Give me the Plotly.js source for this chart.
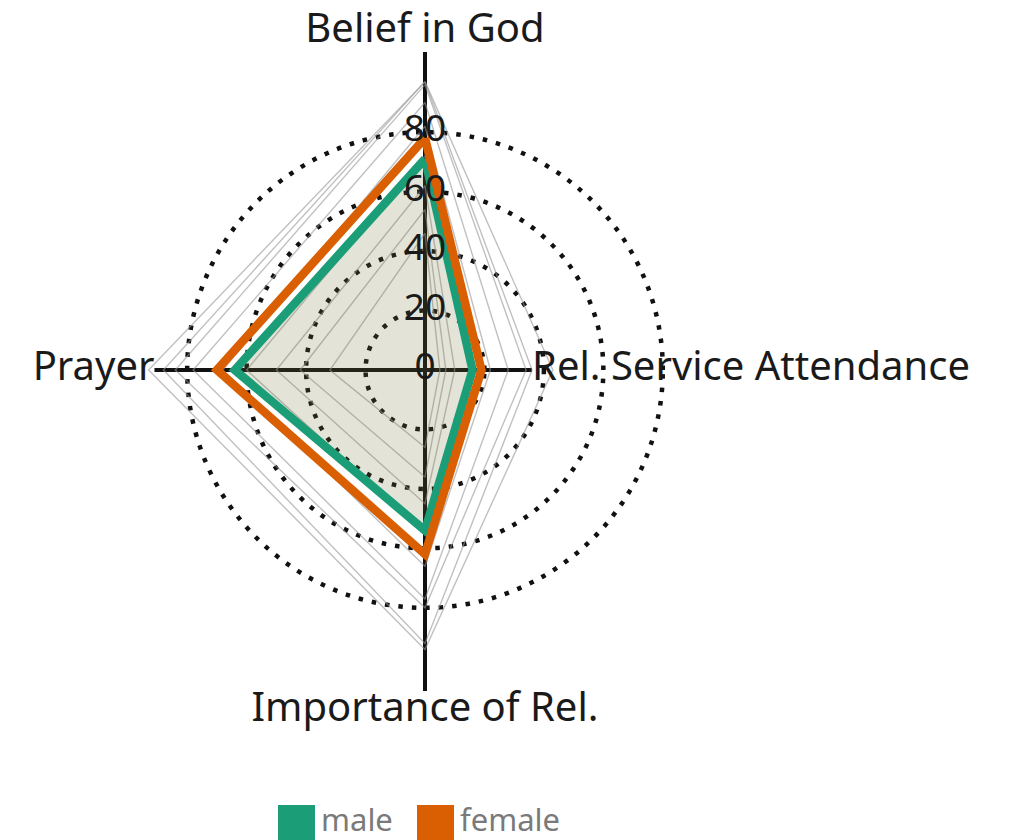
<!DOCTYPE html>
<html>
<head>
<meta charset="utf-8">
<script src="https://cdn.plot.ly/plotly-3.0.1.min.js"></script>
<style>html,body{margin:0;padding:0;background:#fff;}#chart{width:1017px;height:840px;}</style>
</head>
<body>
<div id="chart"></div>
<script>
// ---- data ----
const categories = ["Belief in God", "Rel. Service Attendance", "Importance of Rel.", "Prayer"];
const axisReach = [107, 36, 108, 91];
const radialTicks = [0, 20, 40, 60, 80];
const gridTicks = [20, 40, 60, 80];

const countryValues = [
  [97, 43, 94, 93],
  [97, 36, 92, 88],
  [96, 34, 80, 84],
  [90, 28, 77, 78],
  [82, 22, 66, 68],
  [72, 15, 55, 60],
  [62, 10, 45, 50],
  [54, 7, 36, 42],
  [46, 5, 26, 32]
];

const seriesNames = ["male", "female"];
const maleValues = [71, 16, 54, 64];
const femaleValues = [78, 19, 62, 70];
const seriesColors = ["#1b9e77", "#d95f02"];

// ---- traces ----
const traces = [];
const closeLoop = a => a.concat([a[0]]);
const thetaLoop = closeLoop(categories);

// axis lines
categories.forEach((c, i) => {
  traces.push({
    type: "scatterpolar", mode: "lines",
    r: [0, axisReach[i]], theta: [c, c],
    line: {color: "#111", width: 4},
    hoverinfo: "skip", showlegend: false
  });
});

// country polygons
countryValues.forEach(v => {
  traces.push({
    type: "scatterpolar", mode: "lines",
    r: closeLoop(v), theta: thetaLoop,
    line: {color: "rgba(150,150,150,0.6)", width: 1.4},
    hoverinfo: "skip", showlegend: false
  });
});

// male
traces.push({
  type: "scatterpolar", mode: "lines", name: seriesNames[0],
  r: closeLoop(maleValues), theta: thetaLoop,
  fill: "toself", fillcolor: "rgba(115,115,55,0.2)",
  line: {color: seriesColors[0], width: 8.5, join: "miter"},
  showlegend: false
});
// female
traces.push({
  type: "scatterpolar", mode: "lines", name: seriesNames[1],
  r: closeLoop(femaleValues), theta: thetaLoop,
  line: {color: seriesColors[1], width: 8.5, join: "miter"},
  showlegend: false
});

// radial tick labels
traces.push({
  type: "scatterpolar", mode: "text",
  r: radialTicks, theta: radialTicks.map(() => categories[0]),
  text: radialTicks.map(String),
  textposition: "middle center",
  textfont: {family: "Noto Sans", size: 37, color: "#1a1a1a"},
  hoverinfo: "skip", showlegend: false
});

// category labels
const labelPos = ["top center", "middle right", "bottom center", "middle left"];
categories.forEach((c, i) => {
  traces.push({
    type: "scatterpolar", mode: "text",
    r: [axisReach[i]], theta: [c], text: [c],
    textposition: labelPos[i],
    textfont: {family: "Noto Sans", size: 40, color: "#1a1a1a"},
    hoverinfo: "skip", showlegend: false, cliponaxis: false
  });
});

// ---- custom legend (shapes + annotations) ----
const legendX = [278, 417];
const shapes = [], annotations = [];
seriesNames.forEach((n, i) => {
  shapes.push({type: "rect", xref: "paper", yref: "paper",
    x0: legendX[i] / 1017, x1: (legendX[i] + 37) / 1017,
    y0: 1 - 842 / 840, y1: 1 - 805 / 840,
    fillcolor: seriesColors[i], line: {width: 0}});
  annotations.push({xref: "paper", yref: "paper",
    x: (legendX[i] + 41) / 1017, y: 1 - 819 / 840,
    xanchor: "left", yanchor: "middle", showarrow: false,
    text: n, font: {family: "Noto Sans", size: 31, color: "#7a7a7a"}});
});

const layout = {
  width: 1017, height: 840,
  margin: {l: 0, r: 0, t: 0, b: 0},
  paper_bgcolor: "#fff",
  showlegend: false,
  polar: {
    domain: {x: [98 / 1017, 752 / 1017], y: [1 - 697 / 840, 1 - 43 / 840]},
    bgcolor: "rgba(0,0,0,0)",
    radialaxis: {
      range: [0, 110], showline: false, showticklabels: false, ticks: "",
      tickvals: gridTicks, showgrid: true,
      gridcolor: "#111", gridwidth: 4.5, griddash: "4.5px,9px"
    },
    angularaxis: {
      direction: "clockwise", rotation: 90,
      categoryarray: categories, type: "category",
      showline: false, showgrid: false, showticklabels: false, ticks: ""
    }
  },
  shapes: shapes,
  annotations: annotations
};

Plotly.newPlot("chart", traces, layout, {displayModeBar: false, staticPlot: true});
</script>
</body>
</html>
